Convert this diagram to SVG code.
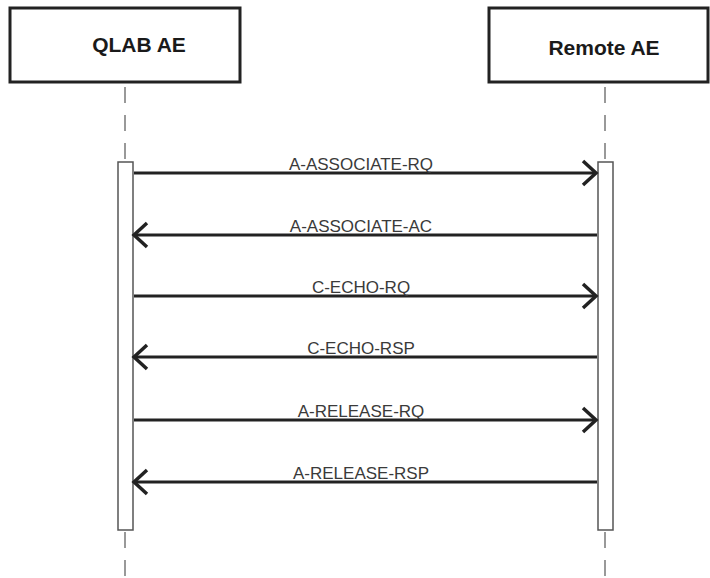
<svg xmlns="http://www.w3.org/2000/svg" width="710" height="578" viewBox="0 0 710 578">
<style>
.box{fill:#fff;stroke:#222;stroke-width:3}
.hdr{font-family:"Liberation Sans",Arial,sans-serif;font-weight:bold;font-size:21px;fill:#1a1a1a;text-anchor:middle}
.life{stroke:#999;stroke-width:2;stroke-dasharray:16 12}
.act{fill:#fff;stroke:#555;stroke-width:1.5}
.msg{stroke:#222;stroke-width:3;fill:none}
.head{stroke:#222;stroke-width:3.5;fill:none;stroke-linejoin:miter}
.lbl{font-family:"Liberation Sans",Arial,sans-serif;font-size:17px;fill:#3a3a3a;text-anchor:middle}
</style>
<rect width="710" height="578" fill="#fff"/>
<g id="qlab">
<line class="life" x1="125" y1="87" x2="125" y2="162"/>
<line class="life" x1="125" y1="532" x2="125" y2="578" stroke-dasharray="16 15"/>
<rect class="box" x="10" y="8" width="230" height="74"/>
<text class="hdr" x="139" y="52">QLAB AE</text>
<rect class="act" x="118" y="162" width="15" height="368"/>
</g>
<g id="remote">
<line class="life" x1="605" y1="87" x2="605" y2="162"/>
<line class="life" x1="605" y1="532" x2="605" y2="578" stroke-dasharray="16 15"/>
<rect class="box" x="489" y="8" width="219" height="74"/>
<text class="hdr" x="604" y="55">Remote AE</text>
<rect class="act" x="598" y="162" width="15" height="368"/>
</g>
<g id="connectors">
<line class="msg" x1="134" y1="173" x2="595" y2="173"/>
<polyline class="head" points="583,161 596,173 583,185"/>
<text class="lbl" x="361" y="170">A-ASSOCIATE-RQ</text>
<line class="msg" x1="597" y1="235" x2="136" y2="235"/>
<polyline class="head" points="147,223 134,235 147,247"/>
<text class="lbl" x="361" y="232">A-ASSOCIATE-AC</text>
<line class="msg" x1="134" y1="296" x2="595" y2="296"/>
<polyline class="head" points="583,284 596,296 583,308"/>
<text class="lbl" x="361" y="293">C-ECHO-RQ</text>
<line class="msg" x1="597" y1="357" x2="136" y2="357"/>
<polyline class="head" points="147,345 134,357 147,369"/>
<text class="lbl" x="361" y="354">C-ECHO-RSP</text>
<line class="msg" x1="134" y1="420" x2="595" y2="420"/>
<polyline class="head" points="583,408 596,420 583,432"/>
<text class="lbl" x="361" y="417">A-RELEASE-RQ</text>
<line class="msg" x1="597" y1="482" x2="136" y2="482"/>
<polyline class="head" points="147,470 134,482 147,494"/>
<text class="lbl" x="361" y="479">A-RELEASE-RSP</text>
</g>
</svg>
